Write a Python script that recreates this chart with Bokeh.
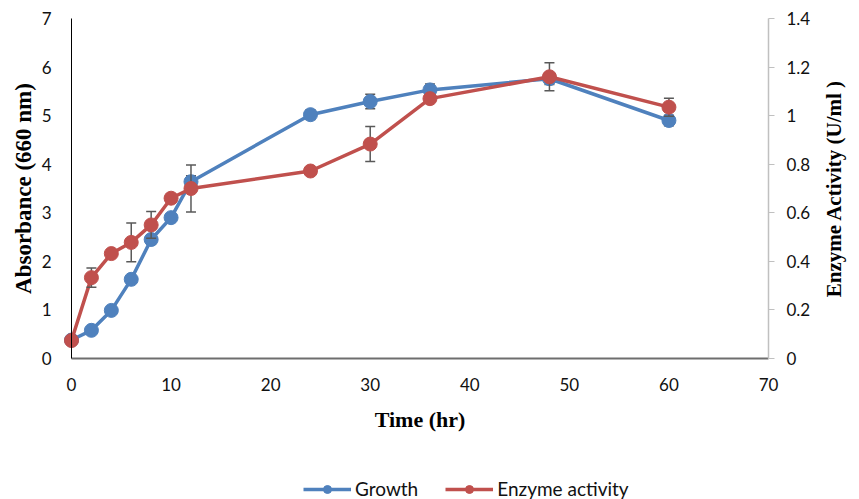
import math
from bokeh.plotting import figure
from bokeh.models import (Range1d, LinearAxis, FixedTicker, CustomJSTickFormatter,
                          ColumnDataSource, Legend, LegendItem, Label)
from bokeh.embed import file_html
from bokeh.resources import INLINE

# ---- data ----
time_hr = [0, 2, 4, 6, 8, 10, 12, 24, 30, 36, 48, 60]
growth = [0.38, 0.58, 0.99, 1.63, 2.45, 2.90, 3.64, 5.02, 5.29, 5.53, 5.76, 4.90]
growth_err = [0.05, 0.05, 0.08, 0.08, 0.10, 0.08, 0.12, 0.10, 0.15, 0.12, 0.12, 0.11]
enzyme = [0.074, 0.333, 0.432, 0.478, 0.550, 0.660, 0.700, 0.772, 0.883, 1.070, 1.160, 1.035]
enzyme_err = [0.01, 0.04, 0.01, 0.08, 0.055, 0.01, 0.097, 0.01, 0.072, 0.01, 0.058, 0.037]
x_ticks = [0, 10, 20, 30, 40, 50, 60, 70]
left_ticks = [0, 1, 2, 3, 4, 5, 6, 7]
right_ticks = [0, 0.2, 0.4, 0.6, 0.8, 1.0, 1.2, 1.4]

BLUE = "#4F81BD"
RED = "#C0504D"
ERR = "#595959"
TICK_FONT = "Lato"
TITLE_FONT = "Liberation Serif"

# ---- layout (pixels) ----
W, H = 859, 499
PX_LEFT, PX_RIGHT = 71, 768     # pixel columns of x=0 and x=70
PX_TOP, PX_BOT = 18, 358        # pixel rows of y=7 and y=0
X_MAX, LEFT_MAX, RIGHT_MAX = 70.0, 7.0, 1.4
kx = (PX_RIGHT - PX_LEFT) / X_MAX
ky = (PX_BOT - PX_TOP) / LEFT_MAX
kr = (PX_BOT - PX_TOP) / RIGHT_MAX

p = figure(width=W, height=H, output_backend="svg", toolbar_location=None,
           x_range=Range1d(-PX_LEFT / kx, X_MAX + (W - PX_RIGHT) / kx),
           y_range=Range1d(-(H - PX_BOT) / ky, LEFT_MAX + PX_TOP / ky),
           min_border_left=0, min_border_right=0, min_border_top=0,
           min_border_bottom=0)
p.outline_line_color = None
p.xgrid.visible = False
p.ygrid.visible = False
p.extra_y_ranges = {"enz": Range1d(-(H - PX_BOT) / kr, RIGHT_MAX + PX_TOP / kr)}


def style_labels(ax):
    ax.major_label_text_font = TICK_FONT
    ax.major_label_text_font_size = "17px"
    ax.major_label_text_color = "#111111"
    ax.minor_tick_line_color = None
    ax.major_tick_in = 0


# left axis
ya = p.yaxis[0]
ya.fixed_location = 0
ya.ticker = FixedTicker(ticks=left_ticks)
ya.bounds = (0, LEFT_MAX)
ya.axis_line_color = "#000000"
ya.axis_line_width = 1
ya.major_tick_line_color = None
ya.major_tick_out = 0
ya.major_label_standoff = 20
style_labels(ya)

# bottom axis
xa = p.xaxis[0]
xa.fixed_location = 0
xa.ticker = FixedTicker(ticks=x_ticks)
xa.bounds = (0, X_MAX)
xa.axis_line_color = "#6E6E6E"
xa.axis_line_width = 2
xa.major_tick_line_color = None
xa.major_tick_out = 0
xa.major_label_standoff = 19
style_labels(xa)

# right axis
ra = LinearAxis(y_range_name="enz", fixed_location=X_MAX)
ra.ticker = FixedTicker(ticks=right_ticks)
ra.bounds = (0, RIGHT_MAX)
ra.formatter = CustomJSTickFormatter(code="return String(Math.round(tick*10)/10);")
ra.axis_line_color = "#C0C0C0"
ra.axis_line_width = 1.5
ra.major_tick_line_color = "#C0C0C0"
ra.major_tick_out = 6
ra.major_label_standoff = 12
style_labels(ra)
p.add_layout(ra, "right")

# axis titles
title_kw = dict(text_font=TITLE_FONT, text_font_style="bold", text_color="#000000",
                text_align="center", text_baseline="middle")
p.add_layout(Label(x=0, y=LEFT_MAX / 2, x_offset=-48, angle=math.pi / 2,
                   text="Absorbance (660 nm)", text_font_size="23px", **title_kw))
p.add_layout(Label(x=X_MAX, y=LEFT_MAX / 2, x_offset=65, angle=math.pi / 2,
                   text="Enzyme Activity (U/ml )", text_font_size="21px", **title_kw))
p.add_layout(Label(x=X_MAX / 2, y=0, y_offset=-61,
                   text="Time (hr)", text_font_size="22px", **title_kw))

# sources
gsrc = ColumnDataSource(dict(x=time_hr, y=growth,
                             lo=[v - e for v, e in zip(growth, growth_err)],
                             hi=[v + e for v, e in zip(growth, growth_err)]))
esrc = ColumnDataSource(dict(x=time_hr, y=enzyme,
                             lo=[v - e for v, e in zip(enzyme, enzyme_err)],
                             hi=[v + e for v, e in zip(enzyme, enzyme_err)]))


def series(src, color, rn):
    kw = {} if rn is None else {"y_range_name": rn}
    ln = p.line("x", "y", source=src, line_color=color, line_width=3.5, **kw)
    p.segment(x0="x", y0="lo", x1="x", y1="hi", source=src,
              line_color=ERR, line_width=1.5, **kw)
    p.scatter("x", "lo", source=src, marker="dash", size=10,
              line_color=ERR, line_width=1.5, **kw)
    p.scatter("x", "hi", source=src, marker="dash", size=10,
              line_color=ERR, line_width=1.5, **kw)
    sc = p.scatter("x", "y", source=src, size=14, fill_color=color,
                   line_color=color, **kw)
    return ln, sc


gl, gs = series(gsrc, BLUE, None)
el, es = series(esrc, RED, "enz")

legend = Legend(items=[LegendItem(label="Growth", renderers=[gl, gs]),
                       LegendItem(label="Enzyme activity", renderers=[el, es])],
                orientation="horizontal", location=(303, -1),
                glyph_width=48, glyph_height=20, label_height=20,
                label_standoff=4, spacing=27, padding=0, margin=0,
                border_line_color=None, background_fill_alpha=0,
                label_text_font=TICK_FONT, label_text_font_size="19px",
                label_text_color="#111111")
p.add_layout(legend, "center")

open("out.html", "w").write(file_html(p, INLINE))
